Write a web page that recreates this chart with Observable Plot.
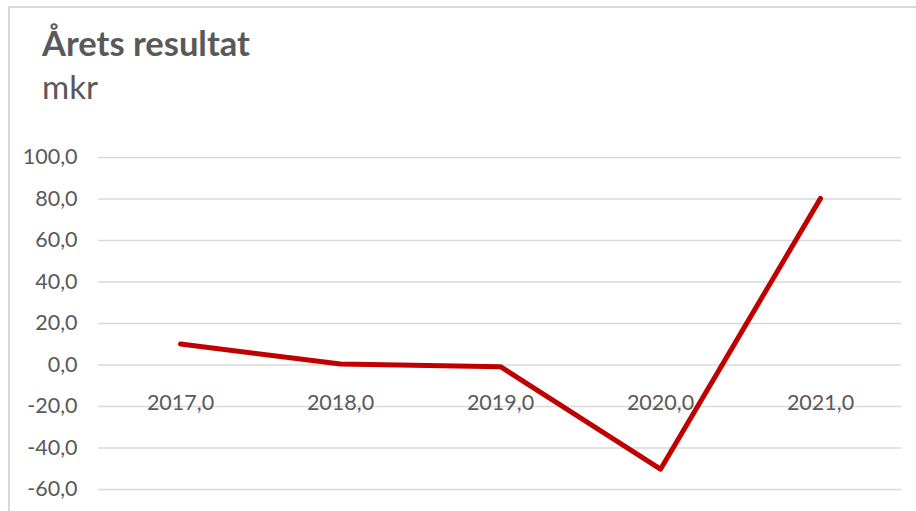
<!DOCTYPE html>
<html>
<head>
<meta charset="utf-8">
<script src="https://cdn.jsdelivr.net/npm/d3@7"></script>
<script src="https://cdn.jsdelivr.net/npm/@observablehq/plot@0.6"></script>
<style>
  html, body { margin: 0; padding: 0; background: #fff; }
  body { width: 916px; height: 511px; overflow: hidden; position: relative; font-family: Lato, "Open Sans", sans-serif; }
  #frame { position: absolute; left: 8px; top: 6px; width: 1000px; height: 600px; border-top: 2px solid #d9d9d9; border-left: 2px solid #d9d9d9; box-sizing: border-box; }
  #header { position: relative; height: 130px; }
  #title { position: absolute; left: 42px; top: 26px; font-size: 34.5px; font-weight: 700; color: #595959; line-height: 1; margin: 0; }
  #subtitle { position: absolute; left: 42px; top: 70px; font-size: 33px; font-weight: 400; color: #595959; line-height: 1; margin: 0; }
  #chart { position: relative; }
</style>
</head>
<body>
<div id="frame"></div>
<div id="header">
  <div id="title">Årets resultat</div>
  <div id="subtitle">mkr</div>
</div>
<div id="chart"></div>
<script>
const years = [2017, 2018, 2019, 2020, 2021];
const values = [10.1, 0.5, -0.8, -50.2, 80.3];
const yTicks = [-60, -40, -20, 0, 20, 40, 60, 80, 100];

const data = years.map((y, i) => ({year: y, value: values[i]}));
const fmt = d => d.toFixed(1).replace(".", ",");

const chart = Plot.plot({
  width: 916,
  height: 381,
  marginTop: 27,
  marginBottom: 22,
  marginLeft: 98,
  marginRight: 15,
  style: {fontFamily: "Lato, 'Open Sans', sans-serif", fontSize: "21.5px", color: "#595959", background: "transparent"},
  x: {type: "point", domain: years, padding: 0.5, axis: null},
  y: {domain: [-60, 100], ticks: yTicks},
  marks: [
    Plot.ruleY(yTicks, {stroke: "#d9d9d9", strokeWidth: 1.6}),
    Plot.axisY(yTicks, {tickSize: 0, tickPadding: 21, tickFormat: fmt, label: null, fill: "#595959", fontSize: 21.5}),
    Plot.text(years, {x: d => d, y: () => 0, text: fmt, dy: 38, lineAnchor: "middle", fill: "#595959", fontSize: 21.5}),
    Plot.line(data, {x: "year", y: "value", stroke: "#c00000", strokeWidth: 5, strokeLinecap: "round", strokeLinejoin: "round"})
  ]
});
document.getElementById("chart").appendChild(chart);
</script>
</body>
</html>
